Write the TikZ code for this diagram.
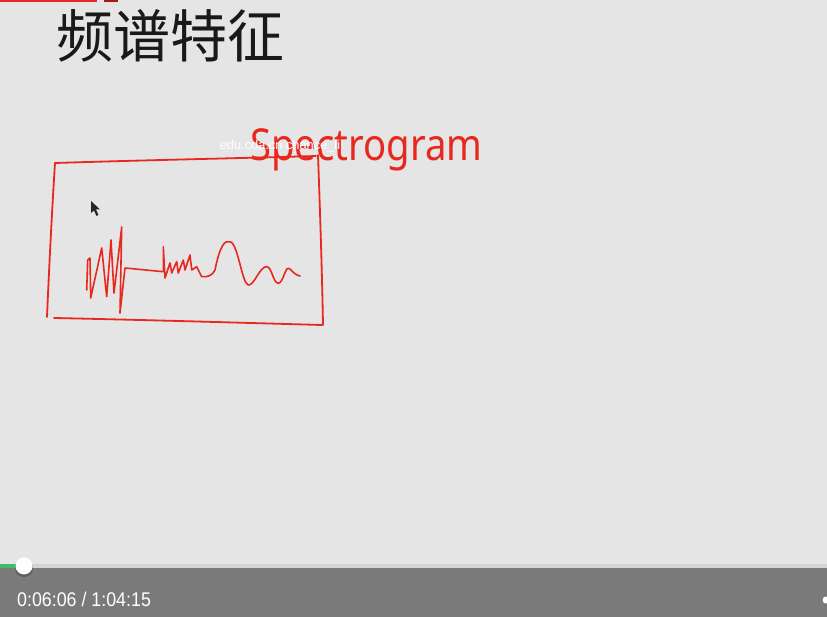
\documentclass[tikz,border=0pt]{standalone}
\usepackage{fontspec}
\newfontfamily\cjk{Noto Sans CJK SC}
\newfontfamily\uisans{Liberation Sans}
\newfontfamily\handfont{Noto Sans}
\definecolor{bgc}{HTML}{E5E5E5}
\definecolor{pen}{HTML}{E8281E}
\definecolor{barc}{HTML}{7A7A7A}
\definecolor{trackc}{HTML}{D4D4D4}
\definecolor{bufc}{HTML}{C8C8C8}
\definecolor{playc}{HTML}{3CBF6C}
\begin{document}
\begin{tikzpicture}[x=1pt,y=-1pt,
  ink/.style={draw=pen, line width=1.8pt, line cap=round, line join=round},
  white text/.style={text=white, inner sep=0pt}]
\useasboundingbox (0,0) rectangle (827,617);
\fill[bgc] (0,0) rectangle (827,617);
% top red mark
\fill[pen] (0,0) rectangle (97,2.5);
\fill[pen!70!black] (104,0) rectangle (118,2);
% title
\node[anchor=west, inner sep=0pt, text=black!90] (title) at (56,36) {\cjk\fontsize{57}{62}\selectfont 频谱特征};
% hand-drawn box
\draw[ink] (55,163) .. controls (150,160) and (250,158) .. (316,156);
\draw[ink] (318,155) .. controls (320,210) and (322,270) .. (323,325);
\draw[ink] (54,318) .. controls (150,320) and (250,323) .. (322,325);
\draw[ink] (55,163) .. controls (52,210) and (49,270) .. (47,317);
% waveform
\draw[ink, line width=1.6pt] (86.7,290) -- (87.7,260) -- (90,258) -- (90.7,298) -- (101.7,248) -- (106.7,296.7)
  -- (111,240) -- (114,293) -- (121.7,227) -- (120,313) -- (125,268) -- (163.3,271.7) -- (163.3,246.7)
  -- (165,278) -- (170,263) -- (171.7,273) -- (176.7,261.7) -- (178.3,273) -- (183.3,260) -- (185,270)
  -- (190,255) -- (191.7,270) -- (196.7,266.7) -- (201.7,276.7)
  .. controls (208,277) and (212,276) .. (215,270)
  .. controls (220,245) and (225,240) .. (230,241.7)
  .. controls (238,243) and (242,284) .. (248.3,285)
  .. controls (254,286) and (260,266) .. (266.7,266.7)
  .. controls (272,267) and (273,283) .. (278.3,283.3)
  .. controls (283,283) and (285,268) .. (288.3,268.3)
  .. controls (291,268) and (292,274) .. (300,276);
% handwritten label
\node[anchor=south west, inner sep=0pt, text=pen, xscale=0.87] (spec) at (250,171) {\handfont\fontsize{44}{48}\selectfont Spectrogram};
% watermark
\node[white text] (wm) at (280,146) {\uisans\fontsize{12.8}{14}\selectfont edu.cda.cn chance\_li};
% mouse cursor
\fill[black!85] (91,201) -- (91,213) -- (94,210.5) -- (96.5,216) -- (98.5,215) -- (96,209.5) -- (100,209.5) -- cycle;
% player controls
\fill[barc] (0,568) rectangle (827,617);
\fill[trackc] (0,563.5) rectangle (827,568);
\fill[bufc] (0,563.5) rectangle (30,568);
\fill[playc] (0,563.5) rectangle (24,568);
\fill[black, opacity=0.25] (24,568) circle (9);
\fill[white] (24,566) circle (8.5);
\node[white text, anchor=west, xscale=0.9] (time) at (17,599) {\uisans\fontsize{19.8}{22}\selectfont 0:06:06 / 1:04:15};
\fill[white] (826,600) circle (3.5);
\end{tikzpicture}
\end{document}
